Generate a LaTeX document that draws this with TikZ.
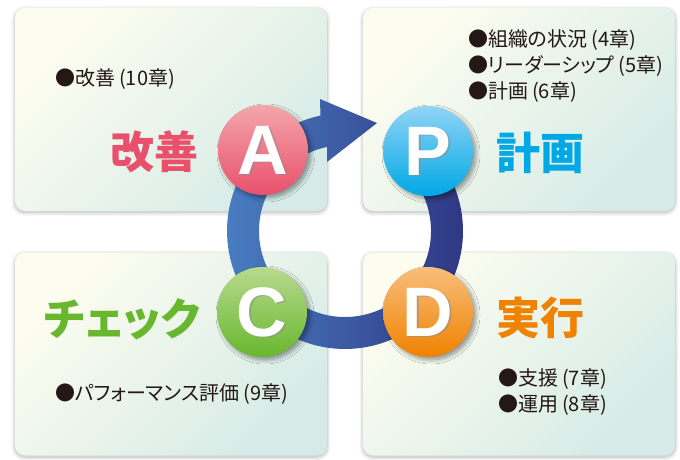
\documentclass[tikz,border=0pt]{standalone}
\usepackage{fontspec}
\newfontfamily\jp{Noto Sans CJK JP}
\newfontfamily\jpp[RawFeature=+palt]{Noto Sans CJK JP}
\newfontfamily\latf{Liberation Sans}
\usetikzlibrary{shadows.blur,calc}
\definecolor{boxA}{HTML}{FDFDEF}
\definecolor{boxB}{HTML}{D6EBE7}
\definecolor{ringL}{HTML}{4A80C4}
\definecolor{ringR}{HTML}{2E3480}
\definecolor{Atop}{HTML}{F4A6AB}\definecolor{Abot}{HTML}{E8506B}
\definecolor{Ptop}{HTML}{90D4F5}\definecolor{Pbot}{HTML}{00A8E6}
\definecolor{Ctop}{HTML}{B8DA8E}\definecolor{Cbot}{HTML}{68B72E}
\definecolor{Dtop}{HTML}{F8BE7C}\definecolor{Dbot}{HTML}{EF8200}
\definecolor{txt}{HTML}{231815}
\begin{document}
\begin{tikzpicture}[x=1pt,y=1pt,
  box/.style={rounded corners=10pt, minimum width=312pt, minimum height=203pt,
    top color=boxA, bottom color=boxB, shading angle=45,
    blur shadow={shadow xshift=0pt, shadow yshift=-1.5pt, shadow blur radius=4pt, shadow blur steps=8, shadow opacity=30}},
  pcirc/.style={circle, minimum size=90pt, inner sep=0pt,
    blur shadow={shadow xshift=3pt, shadow yshift=-3pt, shadow blur radius=4pt, shadow blur steps=8, shadow opacity=40}},
  letter/.style={text=white, font=\latf\bfseries\fontsize{70}{70}\selectfont, inner sep=0pt},
  lshadow/.style={text=black!45, font=\latf\bfseries\fontsize{70}{70}\selectfont, inner sep=0pt, opacity=0.5},
  title/.style={font=\jpp\bfseries\fontsize{44}{44}\selectfont, inner sep=0pt},
  item/.style={font=\jpp\fontsize{20}{26}\selectfont, text=txt, inner sep=0pt, anchor=west, align=left}
]
\useasboundingbox (0,0) rectangle (680,459);
% boxes
\node[box] (tl) at (171,349.5) {};
\node[box] (tr) at (519,349.5) {};
\node[box] (bl) at (171,105) {};
\node[box] (br) at (519,105) {};
% ring with arrow
\coordinate (c) at (345,228);
\shade[left color=ringL, right color=ringR]
  ($(c)+(45:118)$) arc[start angle=45, end angle=-258, radius=118]
  -- (320,360) -- (377,336) -- (327,297)
  -- ($(c)+(102:86)$) arc[start angle=-258, end angle=45, radius=86] -- cycle;
% circles
\node[pcirc, top color=Atop, bottom color=Abot] (A) at (263,309) {};
\node[pcirc, top color=Ptop, bottom color=Pbot] (P) at (428,308) {};
\node[pcirc, top color=Ctop, bottom color=Cbot] (C) at (262,147) {};
\node[pcirc, top color=Dtop, bottom color=Dbot] (D) at (428,147) {};
\foreach \n in {A,P,C,D}{
  \node[lshadow] at ($(\n)+(1.5,-1.5)$) {\n};
  \node[letter] (\n l) at (\n) {\n};
}
% titles
\node[title, text=Abot] (tA) at (154.5,307) {改善};
\node[title, text=Pbot] (tP) at (540,306.5) {計画};
\node[title, text=Cbot] (tC) at (122,140) {チェック};
\node[title, text=Dbot] (tD) at (540,141) {実行};
% items
\node[item] (iA) at (55,380) {●改善\kern4pt(10章)};
\node[item, anchor=north west] (iP) at (468,430) {●組織の状況\kern4pt(4章)\\●リーダーシップ\kern4pt(5章)\\●計画\kern4pt(6章)};
\node[item] (iC) at (55,65) {●パフォーマンス評価\kern4pt(9章)};
\node[item, anchor=north west] (iD) at (498,91) {●支援\kern4pt(7章)\\●運用\kern4pt(8章)};
\end{tikzpicture}
\end{document}
